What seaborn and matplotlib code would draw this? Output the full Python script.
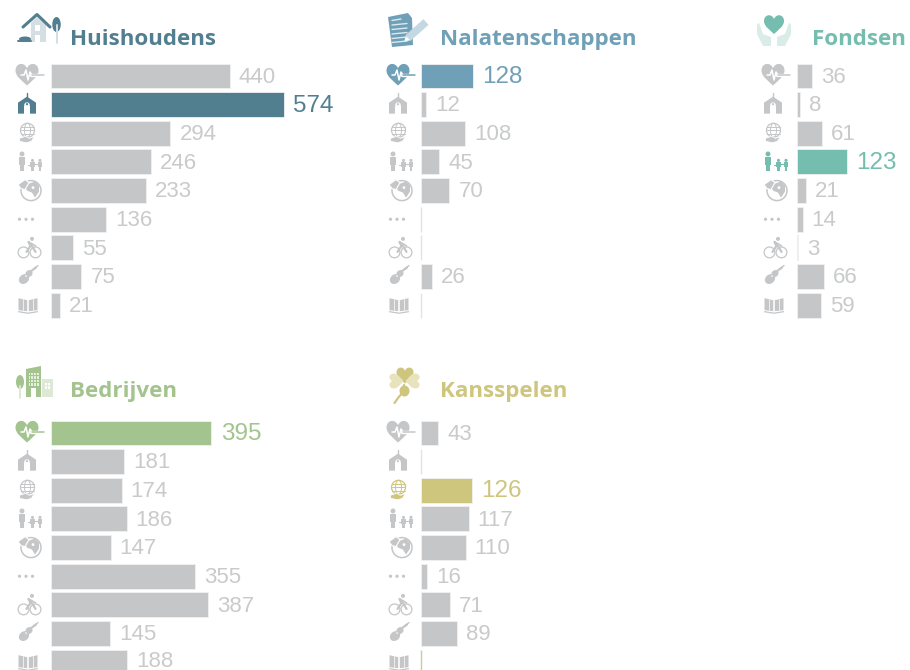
import numpy as np
import pandas as pd
import matplotlib
matplotlib.use('Agg')
import matplotlib.pyplot as plt
from matplotlib.patches import Circle, Ellipse, Polygon, Rectangle, PathPatch
from matplotlib.path import Path
from matplotlib.transforms import Affine2D
import seaborn as sns

# ── Data ───────────────────────────────────────────────────────────────────────

causes = ['gezondheid', 'kerk', 'internationale hulp', 'welzijn', 'milieu',
          'overig', 'sport', 'cultuur', 'onderwijs']

huishoudens     = [440, 574, 294, 246, 233, 136, 55, 75, 21]
nalatenschappen = [128, 12, 108, 45, 70, 0, 0, 26, 0]
fondsen         = [36, 8, 61, 123, 21, 14, 3, 66, 59]
bedrijven       = [395, 181, 174, 186, 147, 355, 387, 145, 188]
kansspelen      = [43, 0, 126, 117, 110, 16, 71, 89, 0]

titles = ['Huishoudens', 'Nalatenschappen', 'Fondsen', 'Bedrijven', 'Kansspelen']
series = [huishoudens, nalatenschappen, fondsen, bedrijven, kansspelen]
accents = ['#527f90', '#6fa0b7', '#75bdae', '#a3c48e', '#cfc67e']
highlight = [1, 0, 3, 0, 2]

GREY = '#c5c6c8'
LABEL_GREY = '#c9cacb'
EDGE = '#f1f1f2'
ZERO_EDGE = '#e2e3e4'

W, H = 910, 670
PX_PER_UNIT = 0.406
ROW = 28.65

# panel origin: x of the bars, y of first row centre, x offset of the icons
panels = [(51, 76), (421, 76), (797, 76), (51, 433), (421, 433)]
icon_dx = [0, 371, 746, 0, 371]

sns.set_theme(style='white')
plt.rcParams['font.family'] = ['Liberation Sans', 'DejaVu Sans']

fig = plt.figure(figsize=(W / 100, H / 100), dpi=100)
fig.patch.set_facecolor('white')

# overlay in pixel coordinates for titles and pictograms
ov = fig.add_axes([0, 0, 1, 1], zorder=5)
ov.set_xlim(0, W)
ov.set_ylim(H, 0)
ov.axis('off')
ov.patch.set_alpha(0)


# ── Pictograms ─────────────────────────────────────────────────────────────────

def add(p):
    ov.add_patch(p)


def heart_path(cx, cy, s):
    verts = np.array([(0, 1.0), (-0.35, 0.65), (-1.0, 0.25), (-1.0, -0.3), (-1.0, -0.95),
                      (-0.25, -1.1), (0, -0.5), (0.25, -1.1), (1.0, -0.95), (1.0, -0.3),
                      (1.0, 0.25), (0.35, 0.65), (0, 1.0)]) * s + (cx, cy)
    codes = [Path.MOVETO] + [Path.CURVE4] * 12
    return Path(verts, codes)


def ic_heart(x, y, c):
    add(PathPatch(heart_path(x - 2, y - 2, 11.5), fc=c, ec='none'))
    px = [x - 8, x - 5, x - 3, x - 1, x + 1, x + 3]
    py = [y - 1, y - 1, y - 6, y + 4, y - 4, y - 1]
    ov.plot(px, py, color='white', lw=1.1)
    ov.plot([x + 2, x + 15], [y - 1, y - 1], color='white', lw=2.4)
    ov.plot([x + 3, x + 15], [y - 1, y - 1], color=c, lw=1.1)


def ic_church(x, y, c):
    add(Polygon([(x - 9, y + 9), (x - 9, y - 2), (x, y - 8), (x + 9, y - 2), (x + 9, y + 9)], fc=c, ec='none'))
    ov.plot([x, x], [y - 12, y - 7], color=c, lw=1.0)
    add(Rectangle((x - 2.8, y + 1), 5.6, 8, fc='white', ec='none'))
    add(Circle((x, y + 0.5), 2.8, fc='white', ec='none'))
    add(Circle((x, y - 0.5), 1.1, fc=c, ec='none'))


def ic_globe(x, y, c):
    add(Circle((x, y - 3), 7, fc='none', ec=c, lw=0.9))
    add(Ellipse((x, y - 3), 6, 14, fc='none', ec=c, lw=0.7))
    for dy in (-3.5, 0, 3.5):
        ov.plot([x - 6.5, x + 6.5], [y - 3 + dy, y - 3 + dy], color=c, lw=0.7)
    add(Polygon([(x - 8, y + 5), (x - 2, y + 3), (x + 2, y + 5), (x + 7, y + 3),
                 (x + 4, y + 8), (x - 1, y + 9.5), (x - 8, y + 8)], fc=c, ec='white', lw=0.6))


def person(x, y, h, c):
    add(Circle((x, y - h * 0.42), h * 0.13, fc=c, ec='none'))
    add(Rectangle((x - h * 0.17, y - h * 0.27), h * 0.34, h * 0.42, fc=c, ec='none'))
    add(Rectangle((x - h * 0.12, y + h * 0.1), h * 0.24, h * 0.4, fc=c, ec='none'))


def ic_family(x, y, c):
    person(x - 5, y, 19, c)
    person(x + 5.5, y + 3.5, 12, c)
    person(x + 13, y + 3.5, 12, c)
    ov.plot([x + 1, x + 3], [y + 3, y + 3], color=c, lw=0.8)
    ov.plot([x + 7, x + 11], [y + 2, y + 2], color=c, lw=0.8)


def ic_earth(x, y, c):
    add(Circle((x + 1, y), 10, fc='none', ec=c, lw=1.1))
    add(Polygon([(x - 1, y - 7), (x + 5, y - 9), (x + 9, y - 5), (x + 9, y + 1), (x + 5, y + 7),
                 (x + 2, y + 2), (x - 3, y + 0), (x - 5, y - 4)], fc=c, ec='none'))
    add(Polygon([(x - 12, y - 6), (x - 5, y - 11), (x - 1, y - 8), (x - 5, y - 1), (x - 9, y - 2)],
                fc=c, ec='white', lw=0.8))
    add(Circle((x + 3, y - 3), 1.4, fc='white', ec='none'))


def ic_dots(x, y, c):
    for dx in (-6.5, 0, 6.5):
        add(Circle((x + dx, y), 1.6, fc=c, ec='none'))


def ic_bike(x, y, c):
    for dx in (-6, 6):
        add(Circle((x + dx, y + 4.5), 5.4, fc='none', ec=c, lw=0.9))
    add(Circle((x + 2.5, y - 9), 2, fc=c, ec='none'))
    ov.plot([x - 3, x + 1, x - 1, x + 3, x + 6], [y + 4, y - 2, y - 6, y - 1, y + 4], color=c, lw=1.6)
    ov.plot([x + 1, x + 6], [y - 5, y - 2], color=c, lw=1.2)


def ic_violin(x, y, c):
    add(Ellipse((x - 3, y + 2.5), 11, 9, angle=-40, fc=c, ec='none'))
    add(Ellipse((x + 2, y - 3), 7.5, 6.5, angle=-40, fc=c, ec='none'))
    ov.plot([x + 2, x + 9], [y - 4, y - 9], color=c, lw=1.6)
    ov.plot([x + 7, x + 11], [y - 8, y - 11], color=c, lw=1.0)
    add(Circle((x - 1, y - 0.5), 0.8, fc='white', ec='none'))


def ic_book(x, y, c):
    for sgn in (-1, 1):
        add(Polygon([(x + sgn * 0.8, y - 5), (x + sgn * 9.5, y - 7), (x + sgn * 9.5, y + 5), (x + sgn * 0.8, y + 6)],
                    fc=c, ec='none'))
        ov.plot([x + sgn * 5, x + sgn * 5], [y - 6, y + 5], color='white', lw=0.5)
    ov.plot([x - 9.5, x, x + 9.5], [y + 6.5, y + 8, y + 6.5], color=c, lw=0.9)


row_icons = [ic_heart, ic_church, ic_globe, ic_family, ic_earth, ic_dots, ic_bike, ic_violin, ic_book]
icon_x = [29, 27, 27.5, 27, 30, 26, 29.5, 27, 28]


def head_house(c):
    pale = '#d5dee3'
    add(Polygon([(31, 42), (31, 23), (37, 17), (46, 25), (46, 42)], fc=pale, ec='none'))
    ov.plot([23, 37, 50], [27, 14.5, 27], color=c, lw=2.2)
    add(Rectangle((34.5, 25), 5, 6, fc='white', ec='none'))
    add(Rectangle((35, 35), 5, 7, fc='white', ec='none'))
    add(Ellipse((25, 39), 12, 5, fc=c, ec='none'))
    ov.plot([18, 31], [40.5, 40.5], color=c, lw=1.4)
    add(Ellipse((56.5, 24.5), 8.5, 15, fc=c, ec='none'))
    ov.plot([56.5, 56.5], [25, 43], color=pale, lw=1.4)


def head_doc(c):
    add(Polygon([(388, 17), (408, 13), (412, 18), (413, 45), (392, 47)], fc=c, ec='none'))
    for k, yy in enumerate((20, 24.5, 29, 33.5, 38, 42)):
        ov.plot([392, 401 if k == 0 else 407], [yy + 0.5, yy - 1], color='#dce9ef', lw=1.0)
    ov.plot([408, 426], [38, 22], color='#c4d8e2', lw=5.5, solid_capstyle='butt')
    add(Polygon([(404, 42), (406, 35), (411, 40)], fc='white', ec='none'))


def head_hands(c):
    pale = '#d9ece7'
    add(PathPatch(heart_path(774, 24, 10), fc=c, ec='none'))
    add(Polygon([(757, 24), (759, 23), (763, 34), (771, 37), (771, 46), (763, 46), (757, 34)], fc=pale, ec='none'))
    add(Polygon([(791, 24), (789, 23), (785, 34), (777, 37), (777, 46), (785, 46), (791, 34)], fc=pale, ec='none'))


def head_building(c):
    pale = '#dde9d5'
    add(Polygon([(26, 369), (41, 366), (41, 397), (26, 397)], fc=c, ec='none'))
    add(Rectangle((42, 379), 11, 18, fc=pale, ec='none'))
    for ix in range(4):
        for iy in range(4):
            add(Rectangle((28.5 + ix * 2.9, 373 + iy * 3.4), 1.9, 2.3, fc='#e4efdc', ec='none'))
    for ix in range(2):
        for iy in range(2):
            add(Rectangle((45 + ix * 3, 383 + iy * 3.4), 2, 2.3, fc='white', ec='none'))
    add(Rectangle((30.5, 388), 5, 9, fc='white', ec='none'))
    add(Ellipse((20, 382), 8, 14, fc=c, ec='none'))
    ov.plot([20, 20], [386, 398], color=pale, lw=1.4)


def head_clover(c):
    pale = '#e8e3bd'
    add(PathPatch(heart_path(405, 375, 8.5), fc=c, ec='none'))
    add(PathPatch(heart_path(396, 381, 7.5).transformed(
        Affine2D().rotate_deg_around(396, 381, -90)), fc=pale, ec='none'))
    add(PathPatch(heart_path(413, 381, 7.5).transformed(
        Affine2D().rotate_deg_around(413, 381, 90)), fc=pale, ec='none'))
    add(Ellipse((404.5, 391), 10, 11, fc=c, ec='none'))
    ov.plot([404, 403, 398, 394.5], [385, 392, 398, 403], color=c, lw=1.6)


head_icons = [head_house, head_doc, head_hands, head_building, head_clover]
title_xy = [(69.5, 45), (439.5, 45), (812.5, 45), (69.5, 397), (439.5, 397)]


# ── Panels ─────────────────────────────────────────────────────────────────────

for i, vals in enumerate(series):
    x0, y0 = panels[i]
    hl = highlight[i]
    accent = accents[i]

    df = pd.DataFrame({'cause': causes, 'value': vals})
    palette = [accent if j == hl else GREY for j in range(len(causes))]

    width_px = 270 if x0 < 700 else 113
    top = y0 - ROW / 2
    height_px = ROW * len(causes)
    ax = fig.add_axes([x0 / W, 1 - (top + height_px) / H, width_px / W, height_px / H])
    sns.barplot(data=df, x='value', y='cause', hue='cause', palette=palette, legend=False,
                width=0.87, saturation=1, dodge=False, edgecolor=EDGE, linewidth=0.6, ax=ax)
    ax.set_xlim(0, width_px / PX_PER_UNIT)
    ax.set_ylim(len(causes) - 0.5, -0.5)
    ax.set_xlabel('')
    ax.set_ylabel('')
    ax.set_xticks([])
    ax.set_yticks([])
    ax.patch.set_alpha(0)
    sns.despine(ax=ax, left=True, bottom=True)

    for j, cont in enumerate(ax.containers):
        if vals[j] == 0:
            # the empty rows still show a hairline at the baseline
            cont[0].set_edgecolor('#b9d2a8' if (i == 4 and j == 8) else ZERO_EDGE)
            cont[0].set_linewidth(1.0)
            cont[0].set_clip_on(False)
            continue
        big = j == hl
        lab = ax.bar_label(cont, labels=[str(vals[j])], padding=6.5,
                           fontsize=17.5 if big else 16, color=accent if big else LABEL_GREY,
                           clip_on=False)
        lab[0].xyann = (6.8 if big else 6.5, -0.8 if y0 + j * ROW < 650 else 0.4)

    ov.text(title_xy[i][0], title_xy[i][1], titles[i], color=accent, fontsize=16.1,
            fontweight='bold', va='baseline', ha='left', family=['Open Sans', 'DejaVu Sans'])
    head_icons[i](accent)

    for j, draw in enumerate(row_icons):
        draw(icon_x[j] + icon_dx[i], y0 + j * ROW, accent if j == hl else GREY)

fig.savefig('out.png', dpi=100)
plt.close(fig)
